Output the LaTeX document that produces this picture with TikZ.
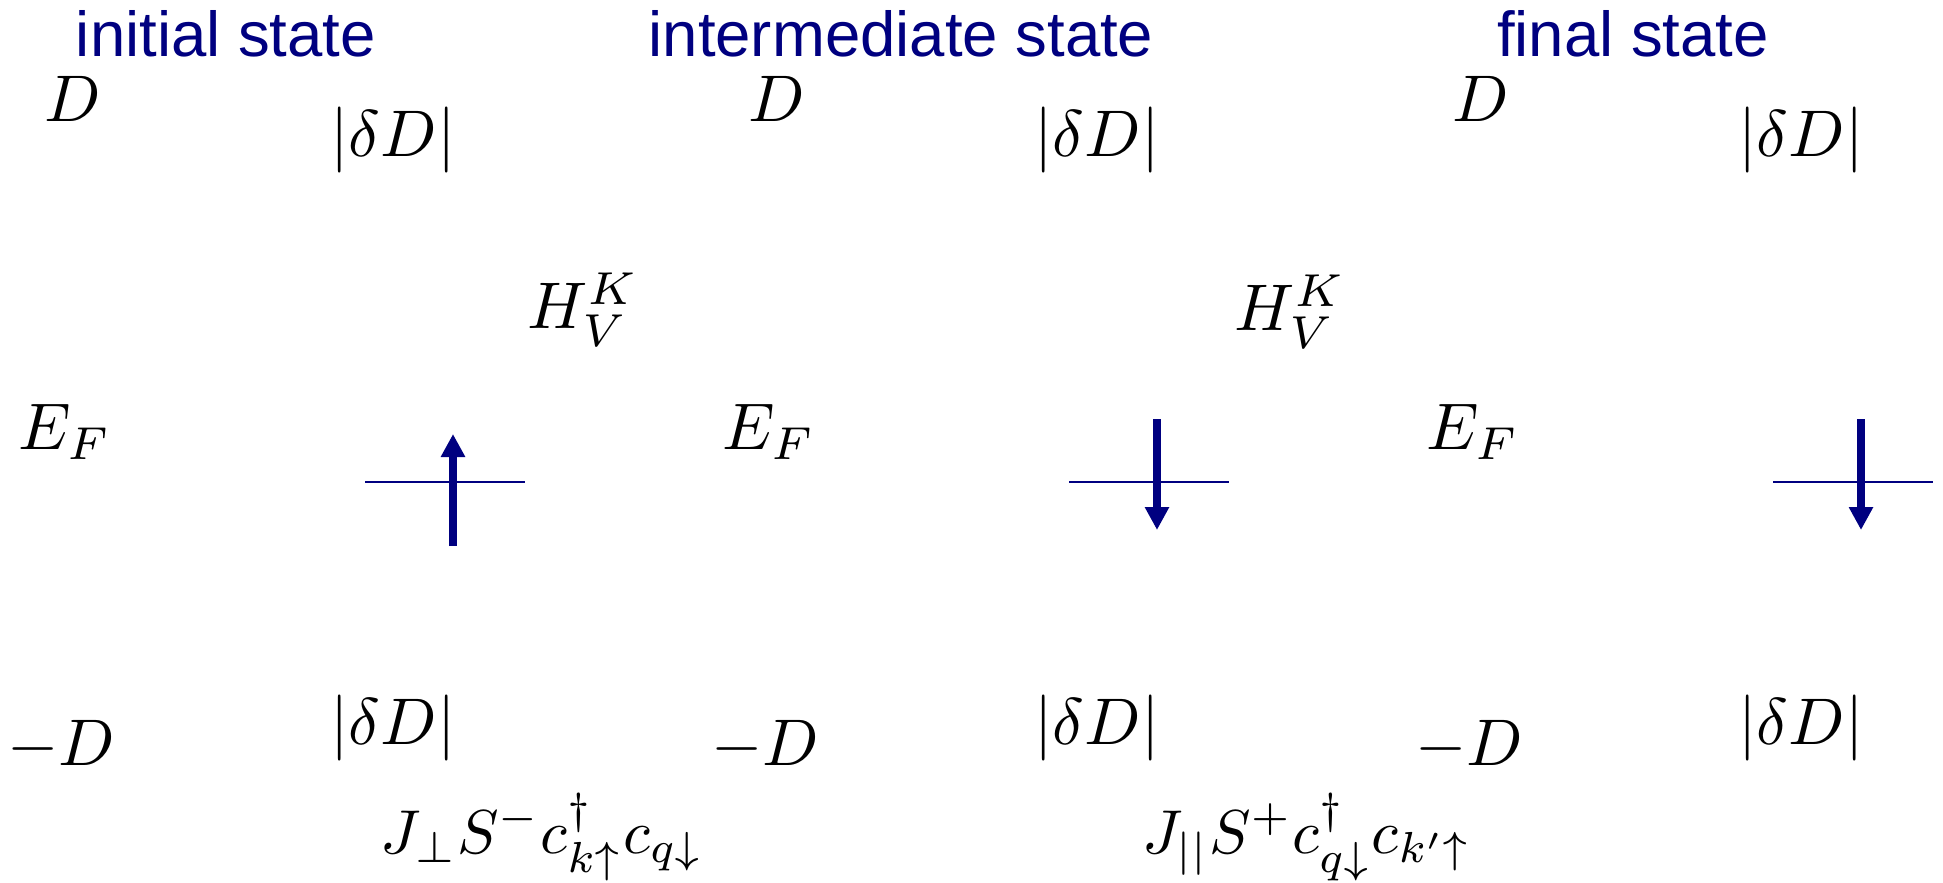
\RequirePackage{fix-cm}
\documentclass[tikz,border=0pt]{standalone}
\usepackage{fontspec}
\newfontfamily\titlefont{Liberation Sans}
\usetikzlibrary{arrows.meta}
\definecolor{navy}{RGB}{0,0,128}
\newcommand{\mylabmath}[2][6.6]{\scalebox{#1}{$#2$}}
\begin{document}
\begin{tikzpicture}[x=1pt,y=-1pt,
  title/.style={font=\titlefont\fontsize{63.5}{76}\selectfont, text=navy, anchor=base, inner sep=0pt},
  lab/.style={inner sep=0pt},
  level/.style={draw=navy, line width=2.5pt},
  spin/.style={draw=navy, line width=8pt, -{Triangle[width=23pt,length=23pt]}}]
\useasboundingbox (0,0) rectangle (1943,883);
\node[title] (t1) at (226,57) {initial state};
\node[title] (t2) at (901,57) {intermediate state};
\node[title] (t3) at (1633,57) {final state};
\foreach \i/\dx in {1/0,2/704,3/1408}{
  \node[lab] (D\i)  at (\dx+73,99) {\mylabmath{D}};
  \node[lab] (dt\i) at (\dx+393,140) {\mylabmath{|\delta D|}};
  \node[lab] (EF\i) at (\dx+65,432) {\mylabmath{E_F}};
  \node[lab] (mD\i) at (\dx+61,746) {\mylabmath{-D}};
  \node[lab] (db\i) at (\dx+393,728) {\mylabmath{|\delta D|}};
  \coordinate (La\i) at (\dx+365,482);
  \coordinate (Lb\i) at (\dx+525,482);
  \draw[level] (La\i) -- (Lb\i);
}
\node[lab] (H1) at (583,310) {\mylabmath{H_V^K}};
\node[lab] (H2) at (1290,312) {\mylabmath{H_V^K}};
\node[lab] (J1) at (542,837) {\mylabmath[6.2]{J_\perp S^- c^\dagger_{k\uparrow} c_{q\downarrow}}};
\node[lab] (J2) at (1307,837) {\mylabmath[6.2]{J_{||} S^+ c^\dagger_{q\downarrow} c_{k'\uparrow}}};
\coordinate (s1a) at (453,546); \coordinate (s1b) at (453,434);
\coordinate (s2a) at (1157,419); \coordinate (s2b) at (1157,530);
\coordinate (s3a) at (1861,419); \coordinate (s3b) at (1861,530);
\draw[spin] (s1a) -- (s1b);
\draw[spin] (s2a) -- (s2b);
\draw[spin] (s3a) -- (s3b);
\end{tikzpicture}
\end{document}
